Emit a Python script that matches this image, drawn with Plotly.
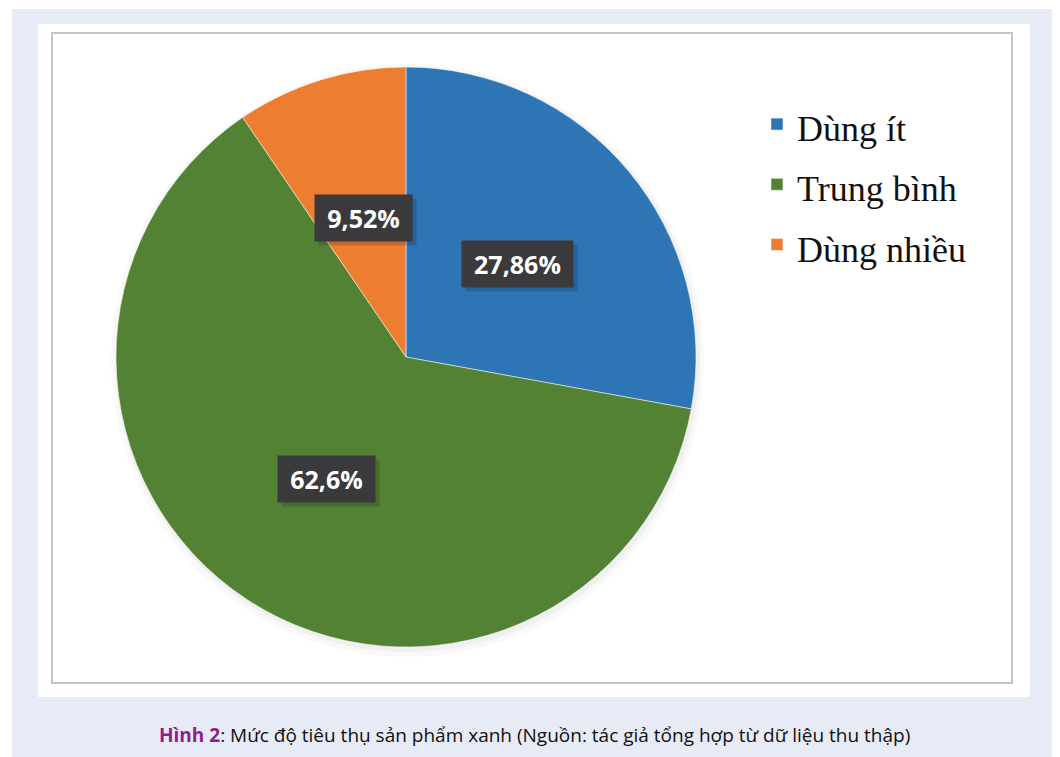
import math
import plotly.graph_objects as go

# The page body has an 8px margin, so the figure is drawn 8px in from the top-left.
OFF = 8
W, H = 1060 - OFF, 757 - OFF

categories = ["Dùng ít", "Trung bình", "Dùng nhiều"]
values = [27.86, 62.6, 9.52]
colors = ["#2E75B6", "#548235", "#ED7D31"]
caption_bold = "Hình 2"
caption_rest = ": Mức độ tiêu thụ sản phẩm xanh (Nguồn: tác giả tổng hợp từ dữ liệu thu thập)"

# pie geometry in screen pixels
cx, cy, R = 406, 357, 290


def px(x):
    return (x - OFF) / W


def py(y):
    return 1 - (y - OFF) / H


fig = go.Figure()
fig.add_trace(go.Pie(
    labels=[f"<span style='font-size:36px'>{c}</span>" for c in categories],
    values=values,
    sort=False,
    direction="clockwise",
    rotation=0,
    marker=dict(colors=colors, line=dict(color="rgba(255,255,255,0.5)", width=1)),
    textinfo="none",
    hoverinfo="label+value",
    domain=dict(x=[px(cx - R), px(cx + R)], y=[py(cy + R), py(cy - R)]),
    showlegend=True,
))

# data labels placed at mid-angle, half radius
annotations = []
total = sum(values)
cum = 0
for v in values:
    mid = (cum + v / 2) / total * 2 * math.pi
    cum += v
    r = 0.5 * R
    lx = cx + r * math.sin(mid)
    ly = cy - r * math.cos(mid)
    txt = str(v).replace(".", ",") + "%"
    bw = 14 * len(txt) + 15
    annotations.append(dict(
        x=px(lx + 4), y=py(ly + 4), xref="paper", yref="paper", text="&nbsp;", showarrow=False,
        font=dict(family="Open Sans", size=25),
        bgcolor="rgba(0,0,0,0.16)", borderpad=6, width=bw, height=34,
        xanchor="center", yanchor="middle",
    ))
    annotations.append(dict(
        x=px(lx), y=py(ly), xref="paper", yref="paper", text=txt, showarrow=False,
        font=dict(family="Open Sans", size=25, color="white", weight="bold"),
        bgcolor="#3A3A3C", borderpad=6, width=bw, height=34,
        xanchor="center", yanchor="middle",
    ))

annotations.append(dict(
    x=px(534), y=py(735), xref="paper", yref="paper", showarrow=False,
    text=f"<b><span style='color:#8E1E8E'>{caption_bold}</span></b>{caption_rest}",
    font=dict(family="Open Sans", size=19, color="#111111"),
    xanchor="center", yanchor="middle",
))

shapes = [
    dict(type="rect", xref="paper", yref="paper", x0=px(12), x1=1, y0=0, y1=py(9),
         fillcolor="#E7EBF5", line=dict(width=0), layer="below"),
    dict(type="rect", xref="paper", yref="paper", x0=px(38), x1=px(1030), y0=py(697), y1=py(24),
         fillcolor="white", line=dict(width=0), layer="below"),
    dict(type="rect", xref="paper", yref="paper", x0=px(52), x1=px(1012), y0=py(683), y1=py(33),
         fillcolor="white", line=dict(color="#C4C4C4", width=2), layer="below"),
    # soft shadow beneath the pie
    dict(type="circle", xref="paper", yref="paper",
         x0=px(cx - R - 5), x1=px(cx + R + 8), y0=py(cy + R + 10), y1=py(cy - R - 3),
         fillcolor="rgba(0,0,0,0.025)", line=dict(width=0), layer="below"),
    dict(type="circle", xref="paper", yref="paper",
         x0=px(cx - R - 1), x1=px(cx + R + 4), y0=py(cy + R + 5), y1=py(cy - R),
         fillcolor="rgba(0,0,0,0.035)", line=dict(width=0), layer="below"),
]

fig.update_layout(
    width=W, height=H,
    margin=dict(l=0, r=0, t=0, b=0),
    paper_bgcolor="white",
    plot_bgcolor="white",
    shapes=shapes,
    annotations=annotations,
    legend=dict(
        x=px(757), y=py(89), xanchor="left", yanchor="top",
        font=dict(family="Liberation Serif", size=44, color="#111111"),
        bgcolor="rgba(0,0,0,0)",
    ),
)

fig.write_html("out.html")
